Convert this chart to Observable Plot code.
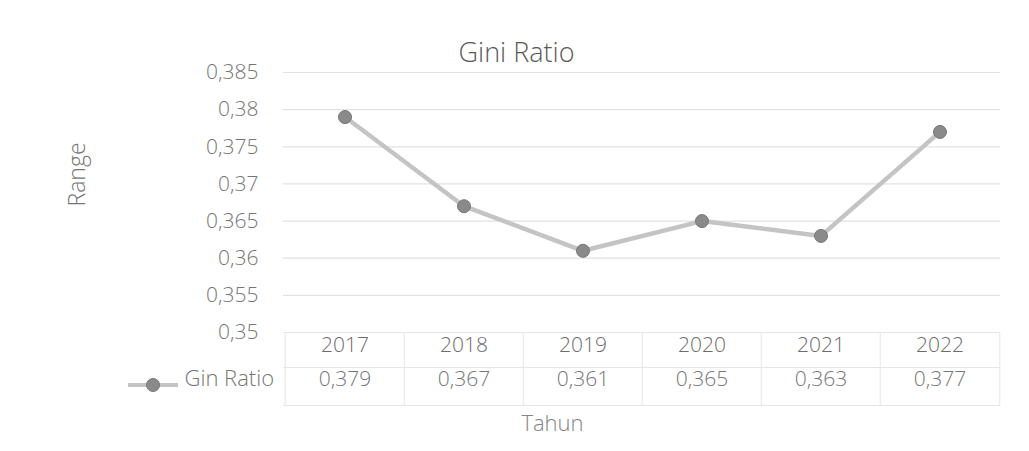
<!DOCTYPE html>
<html>
<head>
<meta charset="utf-8">
<script src="https://cdn.jsdelivr.net/npm/d3@7"></script>
<script src="https://cdn.jsdelivr.net/npm/@observablehq/plot@0.6"></script>
<style>
  html, body { margin: 0; padding: 0; background: #fff; }
  #chart svg { display: block; }
</style>
</head>
<body>
<div id="chart"></div>
<script>
const years = ["2017", "2018", "2019", "2020", "2021", "2022"];
const giniValues = [0.379, 0.367, 0.361, 0.365, 0.363, 0.377];
const yTicks = [0.35, 0.355, 0.36, 0.365, 0.37, 0.375, 0.38, 0.385];
const seriesName = "Gin Ratio";
const titleText = "Gini Ratio";
const yLabel = "Range";
const xLabel = "Tahun";

const data = years.map((y, i) => ({year: y, value: giniValues[i]}));
const fmt = v => d3.format(".3~f")(v).replace(".", ",");

const W = 1029, H = 451;
const mL = 283, mR = 29, mT = 72, mB = 119;
const bw = (W - mL - mR) / years.length;
const frameCx = mL + (W - mL - mR) / 2;
const font = "'Open Sans', Lato, sans-serif";
const textColor = "#767676";
const gridColor = "#e2e2e2";
const tableColor = "#e6e6e6";

const chart = Plot.plot({
  width: W,
  height: H,
  marginLeft: mL,
  marginRight: mR,
  marginTop: mT,
  marginBottom: mB,
  style: {fontFamily: font, fontSize: "21px", color: textColor, background: "#fff", fontWeight: 300},
  x: {type: "band", domain: years, padding: 0, axis: null},
  y: {domain: [0.35, 0.385], ticks: yTicks, tickFormat: fmt, label: null},
  marks: [
    Plot.gridY(yTicks, {stroke: gridColor, strokeOpacity: 1, strokeWidth: 1.2}),
    Plot.axisY(yTicks, {tickSize: 0, tickPadding: 25, tickFormat: fmt, fontSize: 21, fill: textColor, label: null}),
    // data table borders
    Plot.ruleY([0.35], {stroke: tableColor, strokeWidth: 1.2}),
    Plot.ruleY([0.35], {stroke: tableColor, strokeWidth: 1, dy: 35}),
    Plot.ruleY([0.35], {stroke: tableColor, strokeWidth: 1, dy: 73}),
    Plot.ruleX(years, {x: d => d, dx: -bw / 2, y1: 0.35, y2: 0.35, stroke: tableColor, insetBottom: -73}),
    Plot.ruleX(years.slice(-1), {x: d => d, dx: bw / 2, y1: 0.35, y2: 0.35, stroke: tableColor, insetBottom: -73}),
    // line and markers
    Plot.line(data, {x: "year", y: "value", stroke: "#c4c4c4", strokeWidth: 4.5}),
    Plot.dot(data, {x: "year", y: "value", r: 6.5, fill: "#8a8a8a", stroke: "#777", strokeWidth: 1}),
    // table text
    Plot.text(data, {x: "year", text: "year", frameAnchor: "bottom", dy: 19, fontSize: 21, fill: "#6c6c6c"}),
    Plot.text(data, {x: "year", text: d => fmt(d.value), frameAnchor: "bottom", dy: 53, fontSize: 21, fill: textColor}),
    // series name in table
    Plot.text([seriesName], {text: d => d, frameAnchor: "bottom-left", dx: -99, dy: 53, textAnchor: "start", fontSize: 22, fill: textColor}),
    // title
    Plot.text([titleText], {text: d => d, frameAnchor: "top", dx: 516 - frameCx, dy: -30, fontSize: 27, fill: "#5a5a5a"}),
    // y label
    Plot.text([yLabel], {text: d => d, frameAnchor: "left", dx: -206, dy: 4, rotate: -90, fontSize: 23, fill: textColor}),
    // x label
    Plot.text([xLabel], {text: d => d, frameAnchor: "bottom", dx: 552 - frameCx, dy: 98, fontSize: 22, fill: "#848484"})
  ]
});

// legend key (line with marker) for the table row
const svg = d3.select(chart);
const g = svg.append("g").attr("transform", `translate(${mL - 130},${H - mB + 53})`);
g.append("line").attr("x1", -25).attr("x2", 25).attr("y1", 0).attr("y2", 0)
  .attr("stroke", "#c4c4c4").attr("stroke-width", 4);
g.append("circle").attr("r", 6.5).attr("fill", "#8a8a8a").attr("stroke", "#777");

document.getElementById("chart").appendChild(chart);
</script>
</body>
</html>
